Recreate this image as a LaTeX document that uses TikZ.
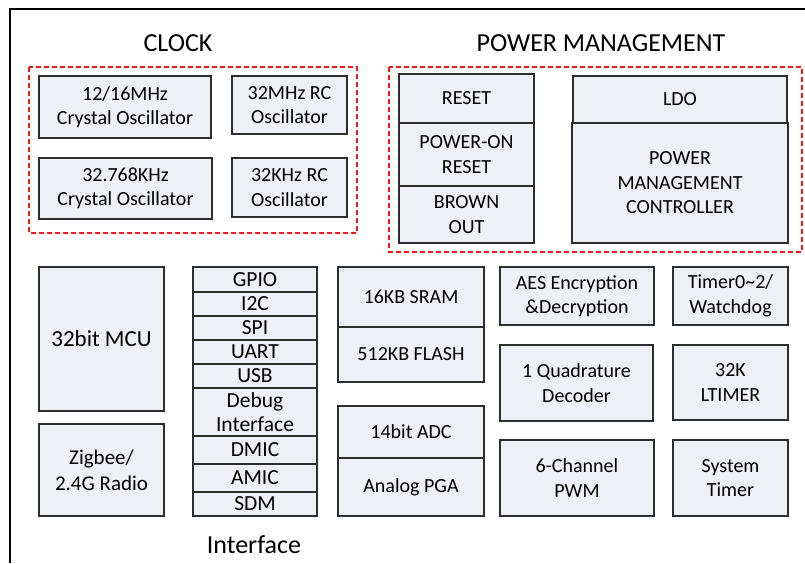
\documentclass[tikz,border=0pt]{standalone}
\usepackage{fontspec}
\setmainfont{Carlito}
\usetikzlibrary{positioning}
\definecolor{blkfill}{RGB}{237,240,245}
\definecolor{blkline}{RGB}{45,45,45}
\definecolor{grpred}{RGB}{255,20,20}
\tikzset{
  blk/.style={draw=blkline,fill=blkfill,line width=1.2pt,inner sep=0pt,outer sep=0pt,
    anchor=north west,align=center,font=\fontsize{20}{24.5}\selectfont},
  ifrow/.style={blk,minimum width=124pt,font=\fontsize{21.5}{24.5}\selectfont},
  grp/.style={draw=grpred,line width=1.3pt,dash pattern=on 5pt off 3pt},
  ttl/.style={font=\fontsize{26}{30}\selectfont}
}
\begin{document}
\begin{tikzpicture}[x=1pt,y=-1pt]
	\useasboundingbox (0,0) rectangle (805,563);
	\draw[line width=2.4pt] (10,563) -- (10,9) -- (805,9);

% clock
	\node[ttl] (clocktitle) at (178,43) {CLOCK};
	\draw[grp] (29,67) rectangle (357,233);
	\node[blk,minimum width=172pt,minimum height=62pt] (xtalm) at (39,76) {12/16MHz\\Crystal Oscillator};
	\node[blk,minimum width=115pt,minimum height=58pt] (rcm) at (232,76) {32MHz RC\\Oscillator};
	\node[blk,minimum width=173pt,minimum height=61pt] (xtalk) at (39,158) {32.768KHz\\Crystal Oscillator};
	\node[blk,minimum width=115pt,minimum height=59pt] (rck) at (232,158) {32KHz RC\\Oscillator};

% power management
	\node[ttl] (pmtitle) at (601,43) {POWER MANAGEMENT};
	\draw[grp] (389,67) rectangle (802,252);
	\node[blk,minimum width=135pt,minimum height=49pt] (reset) at (399,74) {RESET};
	\node[blk,minimum width=135pt,minimum height=63pt,below=0pt of reset] (por) {POWER-ON\\RESET};
	\node[blk,minimum width=135pt,minimum height=57pt,below=0pt of por] (bod) {BROWN\\OUT};
	\node[blk,minimum width=214pt,minimum height=47pt] (ldo) at (573,76) {LDO};
	\node[blk,minimum width=216pt,minimum height=120pt,below=0pt of ldo] (pmc) {POWER\\MANAGEMENT\\CONTROLLER};

% core
	\node[blk,minimum width=125pt,minimum height=144pt,font=\fontsize{23}{26}\selectfont] (mcu) at (39,267) {32bit MCU};
	\node[blk,minimum width=125pt,minimum height=92pt,font=\fontsize{21}{26}\selectfont] (radio) at (39,424) {Zigbee/\\2.4G Radio};

% interface column
	\node[ifrow,minimum height=25pt] (gpio) at (193,267) {GPIO};
	\node[ifrow,minimum height=24pt,below=0pt of gpio] (iic) {I2C};
	\node[ifrow,minimum height=24pt,below=0pt of iic] (spi) {SPI};
	\node[ifrow,minimum height=24pt,below=0pt of spi] (uart) {UART};
	\node[ifrow,minimum height=24pt,below=0pt of uart] (usb) {USB};
	\node[ifrow,minimum height=48pt,below=0pt of usb] (dbg) {Debug\\Interface};
	\node[ifrow,minimum height=28pt,below=0pt of dbg] (dmic) {DMIC};
	\node[ifrow,minimum height=28pt,below=0pt of dmic] (amic) {AMIC};
	\node[ifrow,minimum height=24pt,below=0pt of amic] (sdm) {SDM};
	\node[ttl] (iftitle) at (254,545) {Interface};

% memory and analog
	\node[blk,minimum width=146pt,minimum height=60pt] (sram) at (338,267) {16KB SRAM};
	\node[blk,minimum width=146pt,minimum height=55pt,below=0pt of sram] (flash) {512KB FLASH};
	\node[blk,minimum width=146pt,minimum height=52pt] (adc) at (338,406) {14bit ADC};
	\node[blk,minimum width=146pt,minimum height=58pt,below=0pt of adc] (pga) {Analog PGA};

% peripherals
	\node[blk,minimum width=154pt,minimum height=58pt] (aes) at (500,267) {AES Encryption\\\&Decryption};
	\node[blk,minimum width=153pt,minimum height=76pt] (qdec) at (500,345) {1 Quadrature\\Decoder};
	\node[blk,minimum width=154pt,minimum height=76pt] (pwm) at (500,440) {6-Channel\\PWM};
	\node[blk,minimum width=115pt,minimum height=58pt] (wdt) at (673,267) {Timer0\textasciitilde2/\\Watchdog};
	\node[blk,minimum width=115pt,minimum height=75pt] (ltimer) at (673,345) {32K\\LTIMER};
	\node[blk,minimum width=115pt,minimum height=76pt] (systimer) at (673,440) {System\\Timer};
\end{tikzpicture}
\end{document}
